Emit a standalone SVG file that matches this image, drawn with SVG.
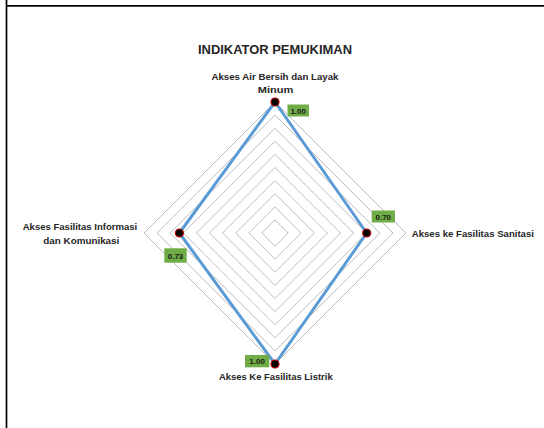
<svg xmlns="http://www.w3.org/2000/svg" width="544" height="428" viewBox="0 0 544 428">
  <style>
    text { font-family: "Liberation Sans", Arial, sans-serif; fill: #262626; font-weight: bold; }
    .title { font-size: 13px; }
    .axis { font-size: 9.5px; }
    .val { font-size: 8px; fill: #1a1a1a; }
    .grid { fill: none; stroke: #bdbdbd; stroke-width: 1; }
    .series { fill: none; stroke: #5b9bd5; stroke-width: 3; stroke-linejoin: round; }
    .marker { fill: #000; stroke: #c00000; stroke-width: 1.2; }
    .tag { fill: #70ad47; }
  </style>

  <rect width="544" height="428" fill="#fff"/>
  <!-- frame lines -->
  <line x1="6.5" y1="0" x2="6.5" y2="428" stroke="#000" stroke-width="1.7"/>
  <line x1="6" y1="5.8" x2="544" y2="5.8" stroke="#000" stroke-width="1.7"/>

  <text class="title" x="275" y="54" text-anchor="middle" textLength="154" lengthAdjust="spacingAndGlyphs">INDIKATOR PEMUKIMAN</text>

  <!-- radar grid: 10 rings, centre (275,233), radius 131 -->
  <g id="grid">
    <polygon class="grid" points="275,219.9 288.1,233 275,246.1 261.9,233"/>
    <polygon class="grid" points="275,206.8 301.2,233 275,259.2 248.8,233"/>
    <polygon class="grid" points="275,193.7 314.3,233 275,272.3 235.7,233"/>
    <polygon class="grid" points="275,180.6 327.4,233 275,285.4 222.6,233"/>
    <polygon class="grid" points="275,167.5 340.5,233 275,298.5 209.5,233"/>
    <polygon class="grid" points="275,154.4 353.6,233 275,311.6 196.4,233"/>
    <polygon class="grid" points="275,141.3 366.7,233 275,324.7 183.3,233"/>
    <polygon class="grid" points="275,128.2 379.8,233 275,337.8 170.2,233"/>
    <polygon class="grid" points="275,115.1 392.9,233 275,350.9 157.1,233"/>
    <polygon class="grid" points="275,102 406,233 275,364 144,233"/>
  </g>

  <!-- data series -->
  <g id="connectors">
    <polygon class="series" points="275,102 366.7,233 275,364 179.4,233"/>
  </g>

  <g id="node-air">
    <circle class="marker" cx="275" cy="102" r="4"/>
    <rect class="tag" x="287.5" y="104.5" width="21.5" height="12"/>
    <text class="val" x="298.2" y="113.5" text-anchor="middle">1.00</text>
    <text class="axis" x="275" y="79.5" text-anchor="middle" textLength="127" lengthAdjust="spacingAndGlyphs">Akses Air Bersih dan Layak</text>
    <text class="axis" x="275.5" y="93" text-anchor="middle" textLength="35.5" lengthAdjust="spacingAndGlyphs">Minum</text>
  </g>

  <g id="node-sanitasi">
    <circle class="marker" cx="366.7" cy="233" r="4"/>
    <rect class="tag" x="371.7" y="210.5" width="23.3" height="12"/>
    <text class="val" x="383.3" y="219.5" text-anchor="middle">0.70</text>
    <text class="axis" x="411.7" y="236.5" textLength="122.3" lengthAdjust="spacingAndGlyphs">Akses ke Fasilitas Sanitasi</text>
  </g>

  <g id="node-listrik">
    <circle class="marker" cx="275" cy="364" r="4"/>
    <rect class="tag" x="245" y="355" width="24.3" height="12.3"/>
    <text class="val" x="257.1" y="364.2" text-anchor="middle">1.00</text>
    <text class="axis" x="275.8" y="379.5" text-anchor="middle" textLength="113.7" lengthAdjust="spacingAndGlyphs">Akses Ke Fasilitas Listrik</text>
  </g>

  <g id="node-informasi">
    <circle class="marker" cx="179.4" cy="233" r="4"/>
    <rect class="tag" x="164.3" y="248.3" width="22.4" height="14.4"/>
    <text class="val" x="175.5" y="258.5" text-anchor="middle">0.73</text>
    <text class="axis" x="80" y="229.5" text-anchor="middle" textLength="114.6" lengthAdjust="spacingAndGlyphs">Akses Fasilitas Informasi</text>
    <text class="axis" x="81.3" y="243.5" text-anchor="middle" textLength="76" lengthAdjust="spacingAndGlyphs">dan Komunikasi</text>
  </g>
</svg>
